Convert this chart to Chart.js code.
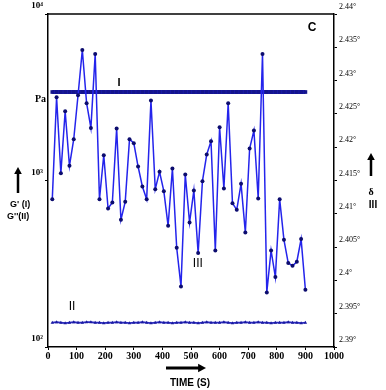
<!DOCTYPE html>
<html>
<head>
<meta charset="utf-8">
<script src="https://cdn.jsdelivr.net/npm/chart.js@4"></script>
<style>
    html, body { margin: 0; padding: 0; background: #fff; }
</style>
</head>
<body>
<canvas id="rheoChart" width="386" height="390"></canvas>
<script>
// Time in seconds
const times = [15, 30, 45, 60, 75, 90, 105, 120, 135, 150, 165, 180, 195, 210, 225, 240, 255, 270, 285, 300,
    315, 330, 345, 360, 375, 390, 405, 420, 435, 450, 465, 480, 495, 510, 525, 540, 555, 570, 585, 600,
    615, 630, 645, 660, 675, 690, 705, 720, 735, 750, 765, 780, 795, 810, 825, 840, 855, 870, 885, 900];

// I : G' (Pa)
const gStorage = [3400, 3400, 3400, 3400, 3400, 3400, 3400, 3400, 3400, 3400, 3400, 3400, 3400, 3400, 3400, 3400, 3400, 3400, 3400, 3400,
    3400, 3400, 3400, 3400, 3400, 3400, 3400, 3400, 3400, 3400, 3400, 3400, 3400, 3400, 3400, 3400, 3400, 3400, 3400, 3400,
    3400, 3400, 3400, 3400, 3400, 3400, 3400, 3400, 3400, 3400, 3400, 3400, 3400, 3400, 3400, 3400, 3400, 3400, 3400, 3400];

// II : G'' (Pa)
const gLoss = [140, 141, 140, 139, 140, 141, 140, 140, 141, 141, 140, 140, 139, 140, 140, 141, 140, 140, 139, 140,
    140, 141, 140, 139, 140, 141, 140, 140, 139, 140, 140, 141, 140, 140, 139, 140, 141, 140, 140, 140,
    141, 140, 139, 140, 140, 141, 140, 140, 141, 140, 140, 139, 140, 140, 140, 141, 140, 140, 139, 140];

// III : delta (degrees)
const delta = [2.4122, 2.4275, 2.4161, 2.4254, 2.4172, 2.4212, 2.4278, 2.4346, 2.4266, 2.4229,
    2.4340, 2.4122, 2.4188, 2.4108, 2.4117, 2.4228, 2.4091, 2.4118, 2.4212, 2.4206,
    2.4171, 2.4141, 2.4122, 2.4270, 2.4137, 2.4163, 2.4134, 2.4082, 2.4168, 2.4049,
    2.3991, 2.4159, 2.4087, 2.4135, 2.4041, 2.4149, 2.4189, 2.4209, 2.4045, 2.4230,
    2.4138, 2.4266, 2.4116, 2.4106, 2.4145, 2.4072, 2.4198, 2.4225, 2.4123, 2.4340,
    2.3982, 2.4045, 2.4005, 2.4122, 2.4061, 2.4026, 2.4022, 2.4028, 2.4062, 2.3986];

const xTicks = [0, 100, 200, 300, 400, 500, 600, 700, 800, 900, 1000];
const leftTicks = [100, 1000, 10000];
const leftLabels = {100: '10²', 1000: '10³', 10000: '10⁴'};
const rightTicks = [2.39, 2.395, 2.4, 2.405, 2.41, 2.415, 2.42, 2.425, 2.43, 2.435, 2.44];

const serif = "'Liberation Serif', 'DejaVu Serif', serif";
const sans = "'Liberation Sans', Arial, sans-serif";

function toPoints(ys) {
    return times.map((t, i) => ({x: t, y: ys[i]}));
}

function arrow(ctx, x1, y1, x2, y2, w, head) {
    const ang = Math.atan2(y2 - y1, x2 - x1);
    ctx.lineWidth = w;
    ctx.beginPath();
    ctx.moveTo(x1, y1);
    ctx.lineTo(x2 - Math.cos(ang) * head * 0.5, y2 - Math.sin(ang) * head * 0.5);
    ctx.stroke();
    ctx.beginPath();
    ctx.moveTo(x2, y2);
    ctx.lineTo(x2 - head * Math.cos(ang - 0.5), y2 - head * Math.sin(ang - 0.5));
    ctx.lineTo(x2 - head * Math.cos(ang + 0.5), y2 - head * Math.sin(ang + 0.5));
    ctx.closePath();
    ctx.fill();
}

// extra text, arrows and the top frame line
const decorations = {
    id: 'decorations',
    afterDraw(chart) {
        const {ctx, chartArea: a, scales} = chart;
        ctx.save();
        ctx.strokeStyle = '#000';
        ctx.fillStyle = '#000';
        ctx.lineWidth = 1.5;
        ctx.beginPath();
        ctx.moveTo(a.left, a.top);
        ctx.lineTo(a.right, a.top);
        ctx.stroke();

        // curve labels
        ctx.textAlign = 'center';
        ctx.textBaseline = 'middle';
        ctx.font = 'bold 11px ' + sans;
        ctx.fillText('I', scales.x.getPixelForValue(248), scales.y.getPixelForValue(3400) - 9);
        ctx.font = '12px ' + sans;
        ctx.fillText('II', scales.x.getPixelForValue(84), scales.y.getPixelForValue(140) - 16);
        ctx.fillText('III', scales.x.getPixelForValue(524), scales.y1.getPixelForValue(2.4025));
        ctx.font = 'bold 12px ' + sans;
        ctx.fillText('C', 312, 28);

        ctx.textAlign = 'right';
        ctx.font = 'bold 10px ' + serif;
        ctx.fillText('Pa', 46, 99);

        // left axis title
        arrow(ctx, 18, 193, 18, 167, 2.5, 8);
        ctx.textAlign = 'left';
        ctx.font = 'bold 9px ' + sans;
        ctx.fillText("G' (I)", 10, 205);
        ctx.fillText("G''(II)", 7, 217);

        // right axis title
        arrow(ctx, 371, 176, 371, 153, 2.5, 8);
        ctx.textAlign = 'center';
        ctx.font = 'bold 10px ' + serif;
        ctx.fillText('δ', 371, 192);
        ctx.font = 'bold 10px ' + sans;
        ctx.fillText('III', 373, 205);

        // x axis title
        arrow(ctx, 166, 368, 206, 368, 3, 9);
        ctx.font = 'bold 10px ' + sans;
        ctx.fillText('TIME (S)', 190, 383);
        ctx.restore();
    }
};

const ctxRheo = document.getElementById('rheoChart').getContext('2d');
const rheoChart = new Chart(ctxRheo, {
    type: 'line',
    data: {
        datasets: [{
            label: 'III',
            data: toPoints(delta),
            yAxisID: 'y1',
            borderColor: '#2424ec',
            borderWidth: 1.5,
            pointRadius: 2,
            pointBackgroundColor: '#0c0c6e',
            pointBorderColor: '#0c0c6e',
            pointBorderWidth: 0,
            tension: 0,
            order: 0
        }, {
            label: 'I',
            data: toPoints(gStorage),
            yAxisID: 'y',
            borderColor: '#1c1cb0',
            borderWidth: 4,
            pointStyle: 'rect',
            pointRadius: 2.6,
            pointBackgroundColor: '#14148c',
            pointBorderColor: '#14148c',
            pointBorderWidth: 0,
            order: 1
        }, {
            label: 'II',
            data: toPoints(gLoss),
            yAxisID: 'y',
            borderColor: '#2a2ac0',
            borderWidth: 1.8,
            pointStyle: 'triangle',
            pointRadius: 2,
            pointBackgroundColor: '#1a1aa0',
            pointBorderColor: '#1a1aa0',
            pointBorderWidth: 0,
            order: 1
        }]
    },
    options: {
        responsive: false,
        animation: false,
        layout: {padding: {top: 14, left: 0, right: 0, bottom: 0}},
        plugins: {
            legend: {display: false},
            tooltip: {enabled: false}
        },
        scales: {
            x: {
                type: 'linear',
                min: 0,
                max: 1000,
                afterBuildTicks: s => { s.ticks = xTicks.map(v => ({value: v})); },
                afterFit: s => { s.height = 43; },
                border: {color: '#000', width: 1.5},
                grid: {drawOnChartArea: false, color: '#000', tickLength: 3},
                ticks: {
                    color: '#000',
                    padding: 0,
                    maxRotation: 0,
                    autoSkip: false,
                    callback: v => String(v),
                    font: {family: serif, size: 10, weight: 'bold'}
                }
            },
            y: {
                type: 'logarithmic',
                position: 'left',
                min: 100,
                max: 10000,
                afterBuildTicks: s => { s.ticks = leftTicks.map(v => ({value: v})); },
                afterFit: s => { s.width = 48; },
                border: {color: '#000', width: 1.5},
                grid: {drawOnChartArea: false, color: '#000', tickLength: 3},
                ticks: {
                    color: '#000',
                    padding: 2,
                    labelOffset: -8,
                    callback: v => leftLabels[v] || '',
                    font: {family: serif, size: 9, weight: 'bold'}
                }
            },
            y1: {
                type: 'linear',
                position: 'right',
                min: 2.39,
                max: 2.44,
                afterBuildTicks: s => { s.ticks = rightTicks.map(v => ({value: v})); },
                afterFit: s => { s.width = 52; },
                border: {color: '#000', width: 1.5},
                grid: {drawOnChartArea: false, color: '#000', tickLength: 3},
                ticks: {
                    color: '#000',
                    padding: 2,
                    labelOffset: -7,
                    callback: v => String(Number(v.toFixed(3))) + '°',
                    font: {family: serif, size: 8}
                }
            }
        }
    },
    plugins: [decorations]
});
</script>
</body>
</html>
